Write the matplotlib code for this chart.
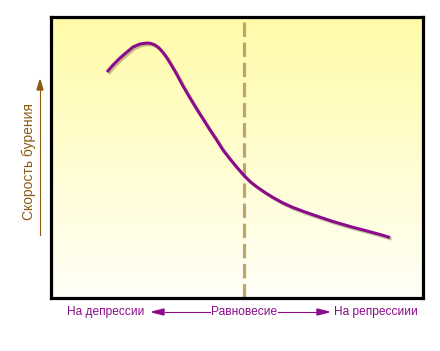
import numpy as np
import matplotlib.pyplot as plt
import matplotlib.patheffects as pe

plt.rcParams['font.family'] = ['Liberation Sans', 'DejaVu Sans']

# curve (axes units: x 0..372, y 0..281)
curve_x = [56, 62, 69, 76, 82, 89, 96, 100, 104, 108, 112, 116, 120, 125, 132, 139, 146, 153,
           159, 166, 172, 179, 186, 193, 199, 206, 214, 222, 232, 242, 254, 267, 282, 299,
           316, 329, 339]
curve_y = [226, 233, 240, 246, 251, 254, 255, 254.5, 253, 250, 245.5, 240, 233.5, 225, 212, 200,
           188.5, 177.5, 168, 157.5, 148, 139, 130.5, 122.5, 116.5, 111, 105.5, 100.5, 95, 90.5,
           86, 81.5, 76.5, 71.5, 67, 63.5, 60.5]
equilibrium_x = 193

left_label = 'На депрессии'
mid_label = 'Равновесие'
right_label = 'На репрессиии'
y_label = 'Скорость бурения'

W, H = 440, 351
fig = plt.figure(figsize=(W / 100, H / 100), dpi=100)
fig.patch.set_facecolor('white')
ax = fig.add_axes([51 / W, 1 - 298 / H, 372 / W, 281 / H])

# yellow (top) to white (bottom) gradient background
grad = np.linspace(0, 1, 256).reshape(-1, 1, 1)
top = np.array([255, 251, 168]) / 255
bot = np.array([255, 255, 248]) / 255
img = top + (bot - top) * grad * np.ones((1, 1, 3))
ax.imshow(img, extent=[0, 372, 0, 281], origin='upper', aspect='auto', zorder=0)
ax.set_xlim(0, 372)
ax.set_ylim(0, 281)

ax.axvline(equilibrium_x, color='#bea56c', lw=2.3, dashes=(4.5, 1.8), zorder=1)

ax.plot(curve_x, curve_y, color='#8c0a8c', lw=2.2, solid_capstyle='butt',
        solid_joinstyle='round', zorder=3,
        path_effects=[pe.SimpleLineShadow(offset=(1.2, -1.2), shadow_color='#7a7a40', alpha=0.45),
                      pe.Normal()])

ax.set_xticks([])
ax.set_yticks([])
for s in ax.spines.values():
    s.set_linewidth(2.3)
    s.set_color('black')

# bottom labels with arrows
purple = '#8c0a8c'
fs = 8.6
fig.text(106 / W, 1 - 312 / H, left_label, color=purple, fontsize=fs, ha='center', va='center')
fig.text(244 / W, 1 - 312 / H, mid_label, color=purple, fontsize=fs, ha='center', va='center')
fig.text(376 / W, 1 - 312 / H, right_label, color=purple, fontsize=fs, ha='center', va='center')
fig.add_artist(plt.Line2D([165 / W, 210 / W], [1 - 312 / H] * 2, color=purple, lw=0.8))
fig.add_artist(plt.Line2D([278 / W, 318 / W], [1 - 312 / H] * 2, color=purple, lw=0.8))
fig.patches.append(plt.Polygon([[152 / W, 1 - 312 / H], [164 / W, 1 - 309 / H], [164 / W, 1 - 315 / H]],
                               closed=True, color=purple, transform=fig.transFigure, figure=fig))
fig.patches.append(plt.Polygon([[329 / W, 1 - 312 / H], [317 / W, 1 - 309 / H], [317 / W, 1 - 315 / H]],
                               closed=True, color=purple, transform=fig.transFigure, figure=fig))

# y label with arrow
brown = '#8b5a14'
fig.text(29 / W, 1 - 161 / H, y_label, color=brown, fontsize=10, rotation=90, ha='center', va='center')
fig.add_artist(plt.Line2D([40 / W, 40 / W], [1 - 235 / H, 1 - 88 / H], color=brown, lw=0.8))
fig.patches.append(plt.Polygon([[40 / W, 1 - 80 / H], [37 / W, 1 - 90 / H], [43 / W, 1 - 90 / H]],
                               closed=True, color=brown, transform=fig.transFigure, figure=fig))

fig.savefig('out.png', dpi=100)
